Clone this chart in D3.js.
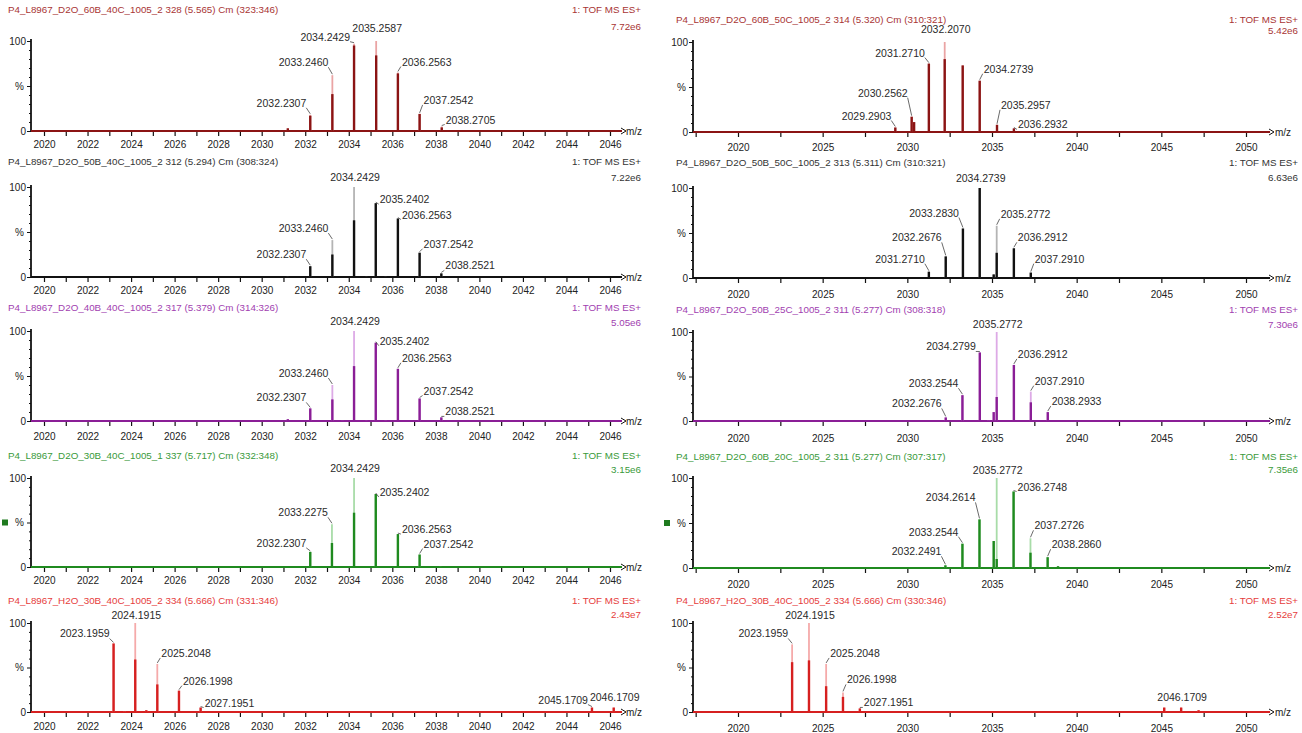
<!DOCTYPE html>
<html><head><meta charset="utf-8">
<script src="https://cdn.jsdelivr.net/npm/d3@7"></script>
<style>body{margin:0;background:#fff}svg text{font-family:"Liberation Sans",Arial,sans-serif}</style>
</head><body><svg id="c" width="1302" height="733"></svg>
<script>
// ---------------- DATA ----------------
const leftTickLabels  = [2020,2022,2024,2026,2028,2030,2032,2034,2036,2038,2040,2042,2044,2046];
const rightTickLabels = [2020,2025,2030,2035,2040,2045,2050];

// Left column
const L1_title = "P4_L8967_D2O_60B_40C_1005_2 328 (5.565) Cm (323:346)";
const L1_scale = "7.72e6";
const L1_mz   = [2031.2, 2032.2307, 2033.2460, 2034.2429, 2035.2587, 2036.2563, 2037.2542, 2038.2705];
const L1_apex = [3, 18, 62, 97, 100, 65, 19, 5];
const L1_core = [3, 17, 41, 95, 84, 64, 19, 4];
const L1_lab  = ["", "2032.2307", "2033.2460", "2034.2429", "2035.2587", "2036.2563", "2037.2542", "2038.2705"];

const L2_title = "P4_L8967_D2O_50B_40C_1005_2 312 (5.294) Cm (308:324)";
const L2_scale = "7.22e6";
const L2_mz   = [2031.2, 2032.2307, 2033.2460, 2034.2429, 2034.8, 2035.2402, 2035.7, 2036.2563, 2037.2542, 2038.2521];
const L2_apex = [1, 12, 41, 100, 1, 82, 1, 65, 27, 4];
const L2_core = [1, 12, 25, 63, 1, 82, 1, 65, 27, 4];
const L2_lab  = ["", "2032.2307", "2033.2460", "2034.2429", "", "2035.2402", "", "2036.2563", "2037.2542", "2038.2521"];

const L3_title = "P4_L8967_D2O_40B_40C_1005_2 317 (5.379) Cm (314:326)";
const L3_scale = "5.05e6";
const L3_mz   = [2031.2, 2032.2307, 2033.2460, 2033.7, 2034.2429, 2034.8, 2035.2402, 2035.7, 2036.2563, 2037.2542, 2038.2521];
const L3_apex = [2, 14, 40, 1, 100, 1, 87, 1, 58, 25, 4];
const L3_core = [2, 14, 24, 1, 61, 1, 87, 1, 58, 25, 4];
const L3_lab  = ["", "2032.2307", "2033.2460", "", "2034.2429", "", "2035.2402", "", "2036.2563", "2037.2542", "2038.2521"];

const L4_title = "P4_L8967_D2O_30B_40C_1005_1 337 (5.717) Cm (332:348)";
const L4_scale = "3.15e6";
const L4_mz   = [2032.2307, 2033.2275, 2034.2429, 2035.2402, 2036.2563, 2037.2542, 2038.2];
const L4_apex = [17, 48, 100, 82, 37, 14, 1];
const L4_core = [17, 27, 61, 82, 37, 14, 1];
const L4_lab  = ["2032.2307", "2033.2275", "2034.2429", "2035.2402", "2036.2563", "2037.2542", ""];

const L5_title = "P4_L8967_H2O_30B_40C_1005_2 334 (5.666) Cm (331:346)";
const L5_scale = "2.43e7";
const L5_mz   = [2023.1959, 2023.7, 2024.1915, 2024.7, 2025.2048, 2026.1998, 2027.1951, 2045.1709, 2046.1709];
const L5_apex = [77, 1, 100, 2, 54, 24, 5, 5, 5];
const L5_core = [77, 1, 59, 2, 31, 24, 5, 5, 5];
const L5_lab  = ["2023.1959", "", "2024.1915", "", "2025.2048", "2026.1998", "2027.1951", "2045.1709", "2046.1709"];

// Right column
const R1_title = "P4_L8967_D2O_60B_50C_1005_2 314 (5.320) Cm (310:321)";
const R1_scale = "5.42e6";
const R1_mz   = [2029.2903, 2030.2562, 2030.40, 2031.2710, 2032.2070, 2033.27, 2034.2739, 2035.2957, 2036.2932];
const R1_apex = [5, 17, 11, 76, 100, 74, 57, 8, 4];
const R1_core = [5, 17, 11, 76, 81, 74, 57, 8, 4];
const R1_lab  = ["2029.2903", "2030.2562", "", "2031.2710", "2032.2070", "", "2034.2739", "2035.2957", "2036.2932"];

const R2_title = "P4_L8967_D2O_50B_50C_1005_2 313 (5.311) Cm (310:321)";
const R2_scale = "6.63e6";
const R2_mz   = [2031.2710, 2032.2676, 2033.2830, 2034.2739, 2035.10, 2035.2772, 2036.2912, 2037.2910];
const R2_apex = [7, 24, 55, 100, 4, 58, 33, 6];
const R2_core = [7, 24, 55, 100, 4, 28, 33, 6];
const R2_lab  = ["2031.2710", "2032.2676", "2033.2830", "2034.2739", "", "2035.2772", "2036.2912", "2037.2910"];

const R3_title = "P4_L8967_D2O_50B_25C_1005_2 311 (5.277) Cm (308:318)";
const R3_scale = "7.30e6";
const R3_mz   = [2032.2676, 2033.2544, 2034.2799, 2034.8, 2035.10, 2035.2772, 2036.2912, 2037.2910, 2038.2933];
const R3_apex = [4, 29, 77, 1, 10, 100, 63, 33, 10];
const R3_core = [4, 29, 77, 1, 10, 27, 63, 21, 10];
const R3_lab  = ["2032.2676", "2033.2544", "2034.2799", "", "", "2035.2772", "2036.2912", "2037.2910", "2038.2933"];

const R4_title = "P4_L8967_D2O_60B_20C_1005_2 311 (5.277) Cm (307:317)";
const R4_scale = "7.35e6";
const R4_mz   = [2032.2491, 2033.2544, 2034.2614, 2035.10, 2035.2772, 2036.2748, 2037.2726, 2038.2860, 2038.9];
const R4_apex = [3, 27, 54, 30, 100, 85, 33, 12, 2];
const R4_core = [3, 27, 54, 30, 10, 85, 17, 12, 2];
const R4_lab  = ["2032.2491", "2033.2544", "2034.2614", "", "2035.2772", "2036.2748", "2037.2726", "2038.2860", ""];

const R5_title = "P4_L8967_H2O_30B_40C_1005_2 334 (5.666) Cm (330:346)";
const R5_scale = "2.52e7";
const R5_mz   = [2023.1959, 2024.1915, 2025.2048, 2026.1998, 2027.1951, 2045.1709, 2046.1709, 2047.2];
const R5_apex = [76, 100, 54, 22, 4, 5, 5, 2];
const R5_core = [56, 58, 29, 17, 4, 5, 5, 2];
const R5_lab  = ["2023.1959", "2024.1915", "2025.2048", "2026.1998", "2027.1951", "", "2046.1709", ""];

const instrument = "1: TOF MS ES+";

// ---------------- LAYOUT / STYLE ----------------
const palette = {
  darkred: {text:"#a83434", stroke:"#8b1414", light:"#eaa4a4"},
  black:   {text:"#333333", stroke:"#111111", light:"#b4b4b4"},
  purple:  {text:"#a13eb0", stroke:"#8a1e96", light:"#ddaae6"},
  green:   {text:"#3a9a3a", stroke:"#1f8a1f", light:"#a8dca8"},
  red:     {text:"#e63c3c", stroke:"#d62020", light:"#f5aaaa"}
};
// label placement: side (L/R/T) and lift in px
const layoutL = [
  {side:["","L","L","L","T","R","R","R"], lift:[0,8,9,3,6,7,10,3]},
  {side:["","L","L","T","","R","","R","R","R"], lift:[0,8,8,3,0,0,0,0,5,4]},
  {side:["","L","L","","T","","R","","R","R","R"], lift:[0,7,8,0,3,0,-2,0,7,4,2]},
  {side:["L","L","T","R","R","R",""], lift:[5,8,3,-2,1,7,0]},
  {side:["L","","T","","R","R","R","L","T"], lift:[6,0,1,0,7,6,1,4,4]}
];
const layoutR = [
  {side:["L","L","","L","T","","R","R","R"], lift:[8,20,0,7,6,0,8,16,0]},
  {side:["L","L","L","T","","R","R","R"], lift:[9,15,12,3,0,8,7,10]},
  {side:["L","L","L","","","T","R","R","R"], lift:[10,8,2,0,0,1,7,7,7]},
  {side:["L","L","L","","T","R","R","R",""], lift:[10,8,18,0,1,1,9,9,0]},
  {side:["L","T","R","R","R","","T",""], lift:[7,1,7,9,2,0,4,0]}
];
const rowsL = [
  {t:10, s:27, y1:41, y0:131, tk:144},
  {t:162,s:178,y1:187,y0:277, tk:290},
  {t:308,s:323,y1:331,y0:421, tk:436},
  {t:456,s:470,y1:478,y0:567, tk:580},
  {t:601,s:615,y1:623,y0:712, tk:726}
];
const rowsR = [
  {t:20, s:31, y1:42, y0:132, tk:147},
  {t:163,s:178,y1:188,y0:278, tk:294},
  {t:310,s:325,y1:332,y0:421, tk:438},
  {t:457,s:470,y1:478,y0:568, tk:584},
  {t:601,s:615,y1:623,y0:712, tk:728}
];
const colL = {ax:31, xEnd:622, dom:[2020,2046], rng:[44,610], minor:1, minorFrom:2020, labels:leftTickLabels, titleX:8, rightX:641, mzX:626, pctX:20, sqX:2};
const colR = {ax:693, xEnd:1270, dom:[2020,2050], rng:[738,1246], minor:2.5, minorFrom:2017.5, labels:rightTickLabels, titleX:676, rightX:1298, mzX:1275, pctX:683, sqX:664};

const panels = [
  {col:colL,row:rowsL[0],lay:layoutL[0],pal:palette.darkred,title:L1_title,scale:L1_scale,mz:L1_mz,apex:L1_apex,core:L1_core,lab:L1_lab},
  {col:colL,row:rowsL[1],lay:layoutL[1],pal:palette.black,  title:L2_title,scale:L2_scale,mz:L2_mz,apex:L2_apex,core:L2_core,lab:L2_lab},
  {col:colL,row:rowsL[2],lay:layoutL[2],pal:palette.purple, title:L3_title,scale:L3_scale,mz:L3_mz,apex:L3_apex,core:L3_core,lab:L3_lab},
  {col:colL,row:rowsL[3],lay:layoutL[3],pal:palette.green,  title:L4_title,scale:L4_scale,mz:L4_mz,apex:L4_apex,core:L4_core,lab:L4_lab,sq:true},
  {col:colL,row:rowsL[4],lay:layoutL[4],pal:palette.red,    title:L5_title,scale:L5_scale,mz:L5_mz,apex:L5_apex,core:L5_core,lab:L5_lab},
  {col:colR,row:rowsR[0],lay:layoutR[0],pal:palette.darkred,title:R1_title,scale:R1_scale,mz:R1_mz,apex:R1_apex,core:R1_core,lab:R1_lab},
  {col:colR,row:rowsR[1],lay:layoutR[1],pal:palette.black,  title:R2_title,scale:R2_scale,mz:R2_mz,apex:R2_apex,core:R2_core,lab:R2_lab},
  {col:colR,row:rowsR[2],lay:layoutR[2],pal:palette.purple, title:R3_title,scale:R3_scale,mz:R3_mz,apex:R3_apex,core:R3_core,lab:R3_lab},
  {col:colR,row:rowsR[3],lay:layoutR[3],pal:palette.green,  title:R4_title,scale:R4_scale,mz:R4_mz,apex:R4_apex,core:R4_core,lab:R4_lab,sq:true},
  {col:colR,row:rowsR[4],lay:layoutR[4],pal:palette.red,    title:R5_title,scale:R5_scale,mz:R5_mz,apex:R5_apex,core:R5_core,lab:R5_lab}
];

// ---------------- DRAW ----------------
const svg = d3.select("#c");
svg.append("rect").attr("width",1302).attr("height",733).attr("fill","#fff");

panels.forEach(p => {
  const c = p.col, r = p.row;
  const x = d3.scaleLinear().domain(c.dom).range(c.rng);
  const y = d3.scaleLinear().domain([0,100]).range([r.y0, r.y1]);
  const g = svg.append("g");

  // header texts
  g.append("text").attr("x",c.titleX).attr("y",r.t).attr("dy","0.35em")
    .attr("font-size",9.8).attr("fill",p.pal.text).text(p.title);
  g.append("text").attr("x",c.rightX).attr("y",r.t).attr("dy","0.35em").attr("text-anchor","end")
    .attr("font-size",9.8).attr("fill",p.pal.text).text(instrument);
  g.append("text").attr("x",c.rightX).attr("y",r.s).attr("dy","0.35em").attr("text-anchor","end")
    .attr("font-size",9.8).attr("fill",p.pal.text).text(p.scale);

  // y axis
  const yAxis = d3.axisLeft(y).tickValues(d3.range(0,101,10)).tickSize(2).tickFormat("");
  const ya = g.append("g").attr("transform",`translate(${c.ax},0)`).call(yAxis);
  ya.select(".domain").attr("stroke","#111").attr("stroke-width",1.8).attr("d",`M0,${r.y1-2}V${r.y0}`);
  ya.selectAll(".tick line").attr("stroke","#111").attr("x2", d => (d===0||d===100||d===50)?-4:-2);
  g.append("text").attr("x",c.ax-5).attr("y",y(100)).attr("dy","0.35em").attr("text-anchor","end")
    .attr("font-size",10).attr("fill","#222").text("100");
  g.append("text").attr("x",c.ax-5).attr("y",y(0)).attr("dy","0.35em").attr("text-anchor","end")
    .attr("font-size",10).attr("fill","#222").text("0");
  g.append("text").attr("x",c.ax-7).attr("y",y(50)).attr("dy","0.35em").attr("text-anchor","end")
    .attr("font-size",10).attr("fill","#222").text("%");
  if (p.sq) g.append("rect").attr("x",c.sqX).attr("y",y(50)-3).attr("width",6).attr("height",6).attr("fill","#1f7a1f");

  // x axis
  const minorVals = d3.range(c.minorFrom, c.dom[1]+0.001, c.minor);
  const xAxisMinor = d3.axisBottom(x).tickValues(minorVals).tickSize(5).tickFormat("");
  const xa = g.append("g").attr("transform",`translate(0,${r.y0})`).call(xAxisMinor);
  xa.select(".domain").remove();
  xa.selectAll(".tick line").attr("stroke","#111").attr("stroke-width",1.2);
  const xAxisLab = d3.axisBottom(x).tickValues(c.labels).tickSize(0).tickPadding(0).tickFormat(d3.format("d"));
  const xl = g.append("g").attr("transform",`translate(0,${r.tk})`).call(xAxisLab);
  xl.select(".domain").remove();
  xl.selectAll("text").attr("font-size",10).attr("fill","#222").attr("dy","0.35em").attr("y",0)
    .style("font-family",'"Liberation Sans",Arial,sans-serif');
  g.append("line").attr("x1",c.ax).attr("x2",c.xEnd).attr("y1",r.y0).attr("y2",r.y0)
    .attr("stroke",p.pal.stroke).attr("stroke-width",2);
  g.append("path").attr("d",`M${c.xEnd-1},${r.y0-3}L${c.xEnd+4},${r.y0}L${c.xEnd-1},${r.y0+3}`)
    .attr("fill","none").attr("stroke","#111").attr("stroke-width",1);
  g.append("text").attr("x",c.mzX).attr("y",r.y0).attr("dy","0.35em")
    .attr("font-size",10).attr("fill","#222").text("m/z");

  // peaks
  const idx = d3.range(p.mz.length);
  g.selectAll(".apex").data(idx).join("line")
    .attr("x1",i=>x(p.mz[i])).attr("x2",i=>x(p.mz[i]))
    .attr("y1",r.y0).attr("y2",i=>y(p.apex[i]))
    .attr("stroke",p.pal.light).attr("stroke-width",1.8);
  g.selectAll(".core").data(idx).join("line")
    .attr("x1",i=>x(p.mz[i])).attr("x2",i=>x(p.mz[i]))
    .attr("y1",r.y0).attr("y2",i=>y(p.core[i]))
    .attr("stroke",p.pal.stroke).attr("stroke-width",2.4);

  // labels
  idx.filter(i=>p.lab[i]).forEach(i => {
    const px = x(p.mz[i]), py = y(p.apex[i]);
    const side = p.lay.side[i], lift = p.lay.lift[i];
    const base = py - lift;
    let tx, anchor;
    if (side === "L") { tx = px - 4; anchor = "end"; }
    else if (side === "R") { tx = px + 4; anchor = "start"; }
    else { tx = px + 1; anchor = "middle"; }
    const tb = side === "T" ? py - 3 - Math.max(lift,0) : base;
    g.append("text").attr("x",tx).attr("y",tb).attr("text-anchor",anchor)
      .attr("font-size",10.5).attr("fill","#2a2a2a").text(p.lab[i]);
    if (side === "L" || side === "R") {
      const sx = side === "L" ? px - 4 : px + 3;
      g.append("line").attr("x1",sx).attr("y1",base+1).attr("x2",px).attr("y2",py-1)
        .attr("stroke","#444").attr("stroke-width",0.8);
    }
  });
});
</script></body></html>
